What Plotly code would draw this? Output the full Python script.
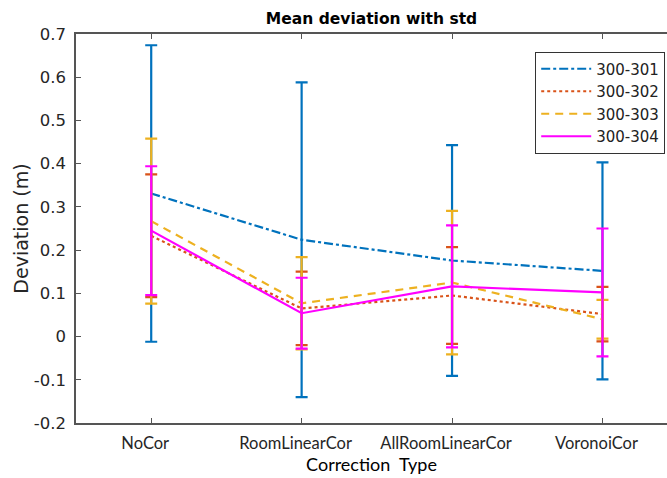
import plotly.graph_objects as go

categories = ["NoCor", "RoomLinearCor", "AllRoomLinearCor", "VoronoiCor"]
x_pos = [1, 2, 3, 4]

series_names = ["300-301", "300-302", "300-303", "300-304"]
mean_301 = [0.331, 0.224, 0.176, 0.152]
std_301 = [0.343, 0.364, 0.267, 0.251]
mean_302 = [0.233, 0.065, 0.095, 0.052]
std_302 = [0.142, 0.085, 0.112, 0.063]
mean_303 = [0.267, 0.077, 0.125, 0.040]
std_303 = [0.191, 0.107, 0.166, 0.045]
mean_304 = [0.245, 0.054, 0.116, 0.102]
std_304 = [0.149, 0.082, 0.141, 0.148]

y_ticks = [-0.2, -0.1, 0, 0.1, 0.2, 0.3, 0.4, 0.5, 0.6, 0.7]
y_tick_labels = ["-0.2", "-0.1", "0", "0.1", "0.2", "0.3", "0.4", "0.5", "0.6", "0.7"]

colors = ["#0072BD", "#D95319", "#EDB120", "#FF00FF"]
dashes = ["dashdot", "dot", "8px,6px", "solid"]
means = [mean_301, mean_302, mean_303, mean_304]
stds = [std_301, std_302, std_303, std_304]

fig = go.Figure()
for name, m, s, c, d in zip(series_names, means, stds, colors, dashes):
    fig.add_trace(go.Scatter(
        x=x_pos, y=m, name=name, mode="lines",
        line=dict(color=c, width=2.2, dash=d),
        error_y=dict(type="data", array=s, visible=True, color=c,
                     thickness=2.2, width=6),
    ))

axis_col = "#555555"
fig.update_layout(
    width=667, height=478,
    margin=dict(l=76, r=0, t=34, b=55),
    paper_bgcolor="white", plot_bgcolor="white",
    font=dict(family="DejaVu Sans", size=14, color="#262626"),
    title=dict(text="<b>Mean deviation with std</b>", x=0.557, xanchor="center",
               y=0.962, yanchor="middle", font=dict(size=15.5, color="black")),
    showlegend=True,
    legend=dict(x=0.777, y=0.955, xanchor="left", yanchor="top",
                bordercolor="#333333", borderwidth=1, bgcolor="white",
                font=dict(size=15, color="#222222"), itemwidth=50,
                tracegroupgap=0),
    xaxis=dict(range=[0.5, 4.429], tickmode="array", tickvals=x_pos,
               ticktext=categories, ticks="inside", ticklen=5, tickcolor=axis_col,
               showline=True, linecolor=axis_col, linewidth=1.5, mirror="ticks",
               showgrid=False, zeroline=False, ticklabelstandoff=4,
               ticklabelshift=-6,
               tickfont=dict(family="Lato", size=16.5, color="#262626"),
               title=dict(text="Correction  Type", standoff=2,
                          font=dict(family="Lato", size=18, color="black"))),
    yaxis=dict(range=[-0.2, 0.7], tickmode="array", tickvals=y_ticks,
               ticktext=y_tick_labels, ticks="inside", ticklen=5, tickcolor=axis_col,
               showline=True, linecolor=axis_col, linewidth=1.5,
               showgrid=False, zeroline=False, ticklabelstandoff=5,
               tickfont=dict(size=16.5, color="#262626"),
               title=dict(text="Deviation (m)", standoff=0,
                          font=dict(size=19, color="#262626"))),
)

fig.write_html("out.html")
